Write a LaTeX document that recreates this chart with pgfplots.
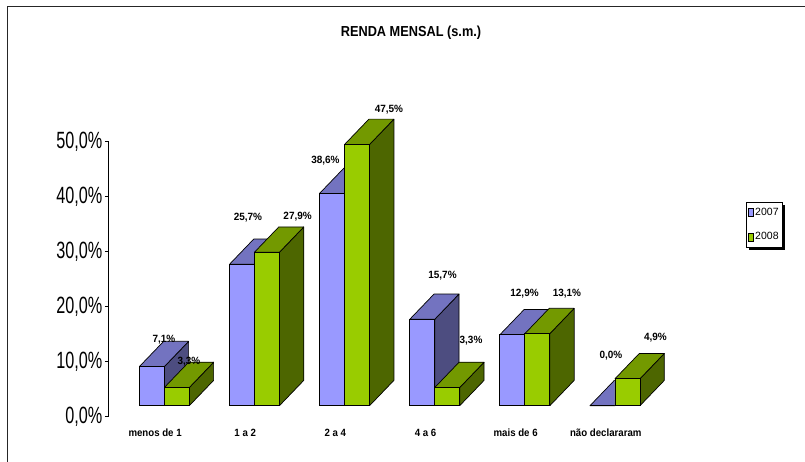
\documentclass[border=0pt]{standalone}
\usepackage{pgfplots}
\pgfplotsset{compat=1.18}
\usepackage{pgfplotstable}
\usepackage{fontspec}
\setmainfont{Liberation Sans}
\usetikzlibrary{shadows}

\definecolor{c07front}{HTML}{9999FF}
\definecolor{c07top}{HTML}{7373C0}
\definecolor{c07side}{HTML}{4D4D80}
\definecolor{c08front}{HTML}{99CC00}
\definecolor{c08top}{HTML}{739900}
\definecolor{c08side}{HTML}{4D6600}

\makeatletter
\tikzset{no preactions/.code={\let\tikz@preactions\pgfutil@empty}}
\makeatother

% renda mensal, % por faixa; ax/ay = offsets of the value labels (pt)
\pgfplotstableread{
x v07 v08 ax07 ay07 ax08 ay08
0 7.1 3.3 12.2 26.6 12.2 25.5
1 25.7 27.9 6 46.6 30.7 35.5
2 38.6 47.5 -6.6 32.4 31.9 35.2
3 15.7 3.3 20.3 43.3 23.8 46.9
4 12.9 13.1 12.2 41.5 29.6 39.7
5 0.0 4.9 8.5 50 28 41
}\renda

% bar width and 3d depth, in axis units
\def\bw{0.2773}
\def\depthx{0.27}
\def\depthy{4.6}

% side and top face of one column, front-left x = #1, value = #2
\newcommand\boxfaces[4]{%
  \pgfmathsetmacro\xL{#1}%
  \pgfmathsetmacro\xR{#1+\bw}%
  \pgfmathsetmacro\xLb{#1+\depthx}%
  \pgfmathsetmacro\xRb{#1+\bw+\depthx}%
  \pgfmathsetmacro\yT{#2}%
  \pgfmathsetmacro\yTb{#2+\depthy}%
  \edef\tmp{\noexpand\addplot[forget plot, fill=#4, draw=black, line width=0.7pt, line join=round]
    coordinates {(\xR,0) (\xRb,\depthy) (\xRb,\yTb) (\xR,\yT) (\xR,0)};}\tmp
  \edef\tmp{\noexpand\addplot[forget plot, fill=#3, draw=black, line width=0.7pt, line join=round]
    coordinates {(\xL,\yT) (\xR,\yT) (\xRb,\yTb) (\xLb,\yTb) (\xL,\yT)};}\tmp
}

\begin{document}
\begin{tikzpicture}
\useasboundingbox (0,0) rectangle (805pt,462pt);
\draw[line width=1.8pt, black!85] (7.5pt,0) -- (7.5pt,455.5pt) -- (805pt,455.5pt);
\node[font=\bfseries\fontsize{14.5}{16}\selectfont, xscale=0.88] at (411pt,429.7pt) {RENDA MENSAL (s.m.)};

\begin{axis}[
    at={(108.8pt,45.3pt)}, anchor=south west,
    scale only axis,
    width=596.3pt, height=275pt,
    xmin=-0.6157, xmax=6,
    ymin=-2, ymax=48,
    enlargelimits=false,
    clip=false,
    axis y line=left,
    axis x line=bottom,
    axis line style={-},
    x axis line style={draw=none},
    y axis line style={line width=1pt},
    xtick={0,...,5},
    xticklabels={menos de 1, 1 a 2, 2 a 4, 4 a 6, mais de 6, não declararam},
    xtick style={draw=none},
    xticklabel style={font=\bfseries\fontsize{10.5}{12}\selectfont, xscale=0.92, anchor=center, xshift=-10pt, yshift=-12pt},
    ytick={-2,8,18,28,38,48},
    yticklabels={{0,0\%},{10,0\%},{20,0\%},{30,0\%},{40,0\%},{50,0\%}},
    yticklabel style={font=\fontsize{23.5}{24}\selectfont, xscale=0.69, anchor=east},
    tick align=outside,
    major tick length=4pt,
    ytick style={black, line width=0.8pt},
    /pgf/number format/assume math mode=true,
    legend style={at={(axis cs:6.453,37.09)}, anchor=north west,
        draw=black, line width=0.6pt, fill=white,
        font=\fontsize{10.5}{12}\selectfont,
        inner xsep=1.5pt, inner ysep=4pt, row sep=11.5pt,
        cells={anchor=west},
        general shadow={shadow xshift=2.5pt, shadow yshift=-2.5pt, fill=black}},
    legend image code/.code={\draw[no preactions, #1, draw=black, line width=0.5pt] (0pt,-4pt) rectangle (5pt,4pt);},
]
\addlegendimage{fill=c07front}
\addlegendentry{2007}
\addlegendimage{fill=c08front}
\addlegendentry{2008}

% 2007
\pgfplotsforeachungrouped \i in {0,...,5}{%
  \pgfplotstablegetelem{\i}{v07}\of\renda
  \let\val\pgfplotsretval
  \boxfaces{\i-\bw}{\val}{c07top}{c07side}%
}
\addplot[forget plot, ybar, bar width=0.2773, bar shift=0, fill=c07front, draw=black, line width=0.7pt]
  table[x expr=\thisrow{x}-0.13865, y=v07] \renda;

% 2008
\pgfplotsforeachungrouped \i in {0,...,5}{%
  \pgfplotstablegetelem{\i}{v08}\of\renda
  \let\val\pgfplotsretval
  \boxfaces{\i}{\val}{c08top}{c08side}%
}
\addplot[forget plot, ybar, bar width=0.2773, bar shift=0, fill=c08front, draw=black, line width=0.7pt]
  table[x expr=\thisrow{x}+0.13865, y=v08] \renda;

% value labels
\addplot[forget plot, draw=none, mark=none, point meta=y,
    nodes near coords={\pgfmathprintnumber[fixed,fixed zerofill,precision=1,use comma]{\pgfplotspointmeta}\%},
    visualization depends on={\thisrow{ax07} \as \lx},
    visualization depends on={\thisrow{ay07} \as \ly},
    every node near coord/.style={anchor=center, xshift=\lx pt, yshift=\ly pt, text=black,
        font=\bfseries\fontsize{10.5}{12}\selectfont, xscale=0.95}]
  table[x expr=\thisrow{x}-0.13865, y=v07] \renda;
\addplot[forget plot, draw=none, mark=none, point meta=y,
    nodes near coords={\pgfmathprintnumber[fixed,fixed zerofill,precision=1,use comma]{\pgfplotspointmeta}\%},
    visualization depends on={\thisrow{ax08} \as \lx},
    visualization depends on={\thisrow{ay08} \as \ly},
    every node near coord/.style={anchor=center, xshift=\lx pt, yshift=\ly pt, text=black,
        font=\bfseries\fontsize{10.5}{12}\selectfont, xscale=0.95}]
  table[x expr=\thisrow{x}+0.13865, y=v08] \renda;
\end{axis}
\end{tikzpicture}
\end{document}
